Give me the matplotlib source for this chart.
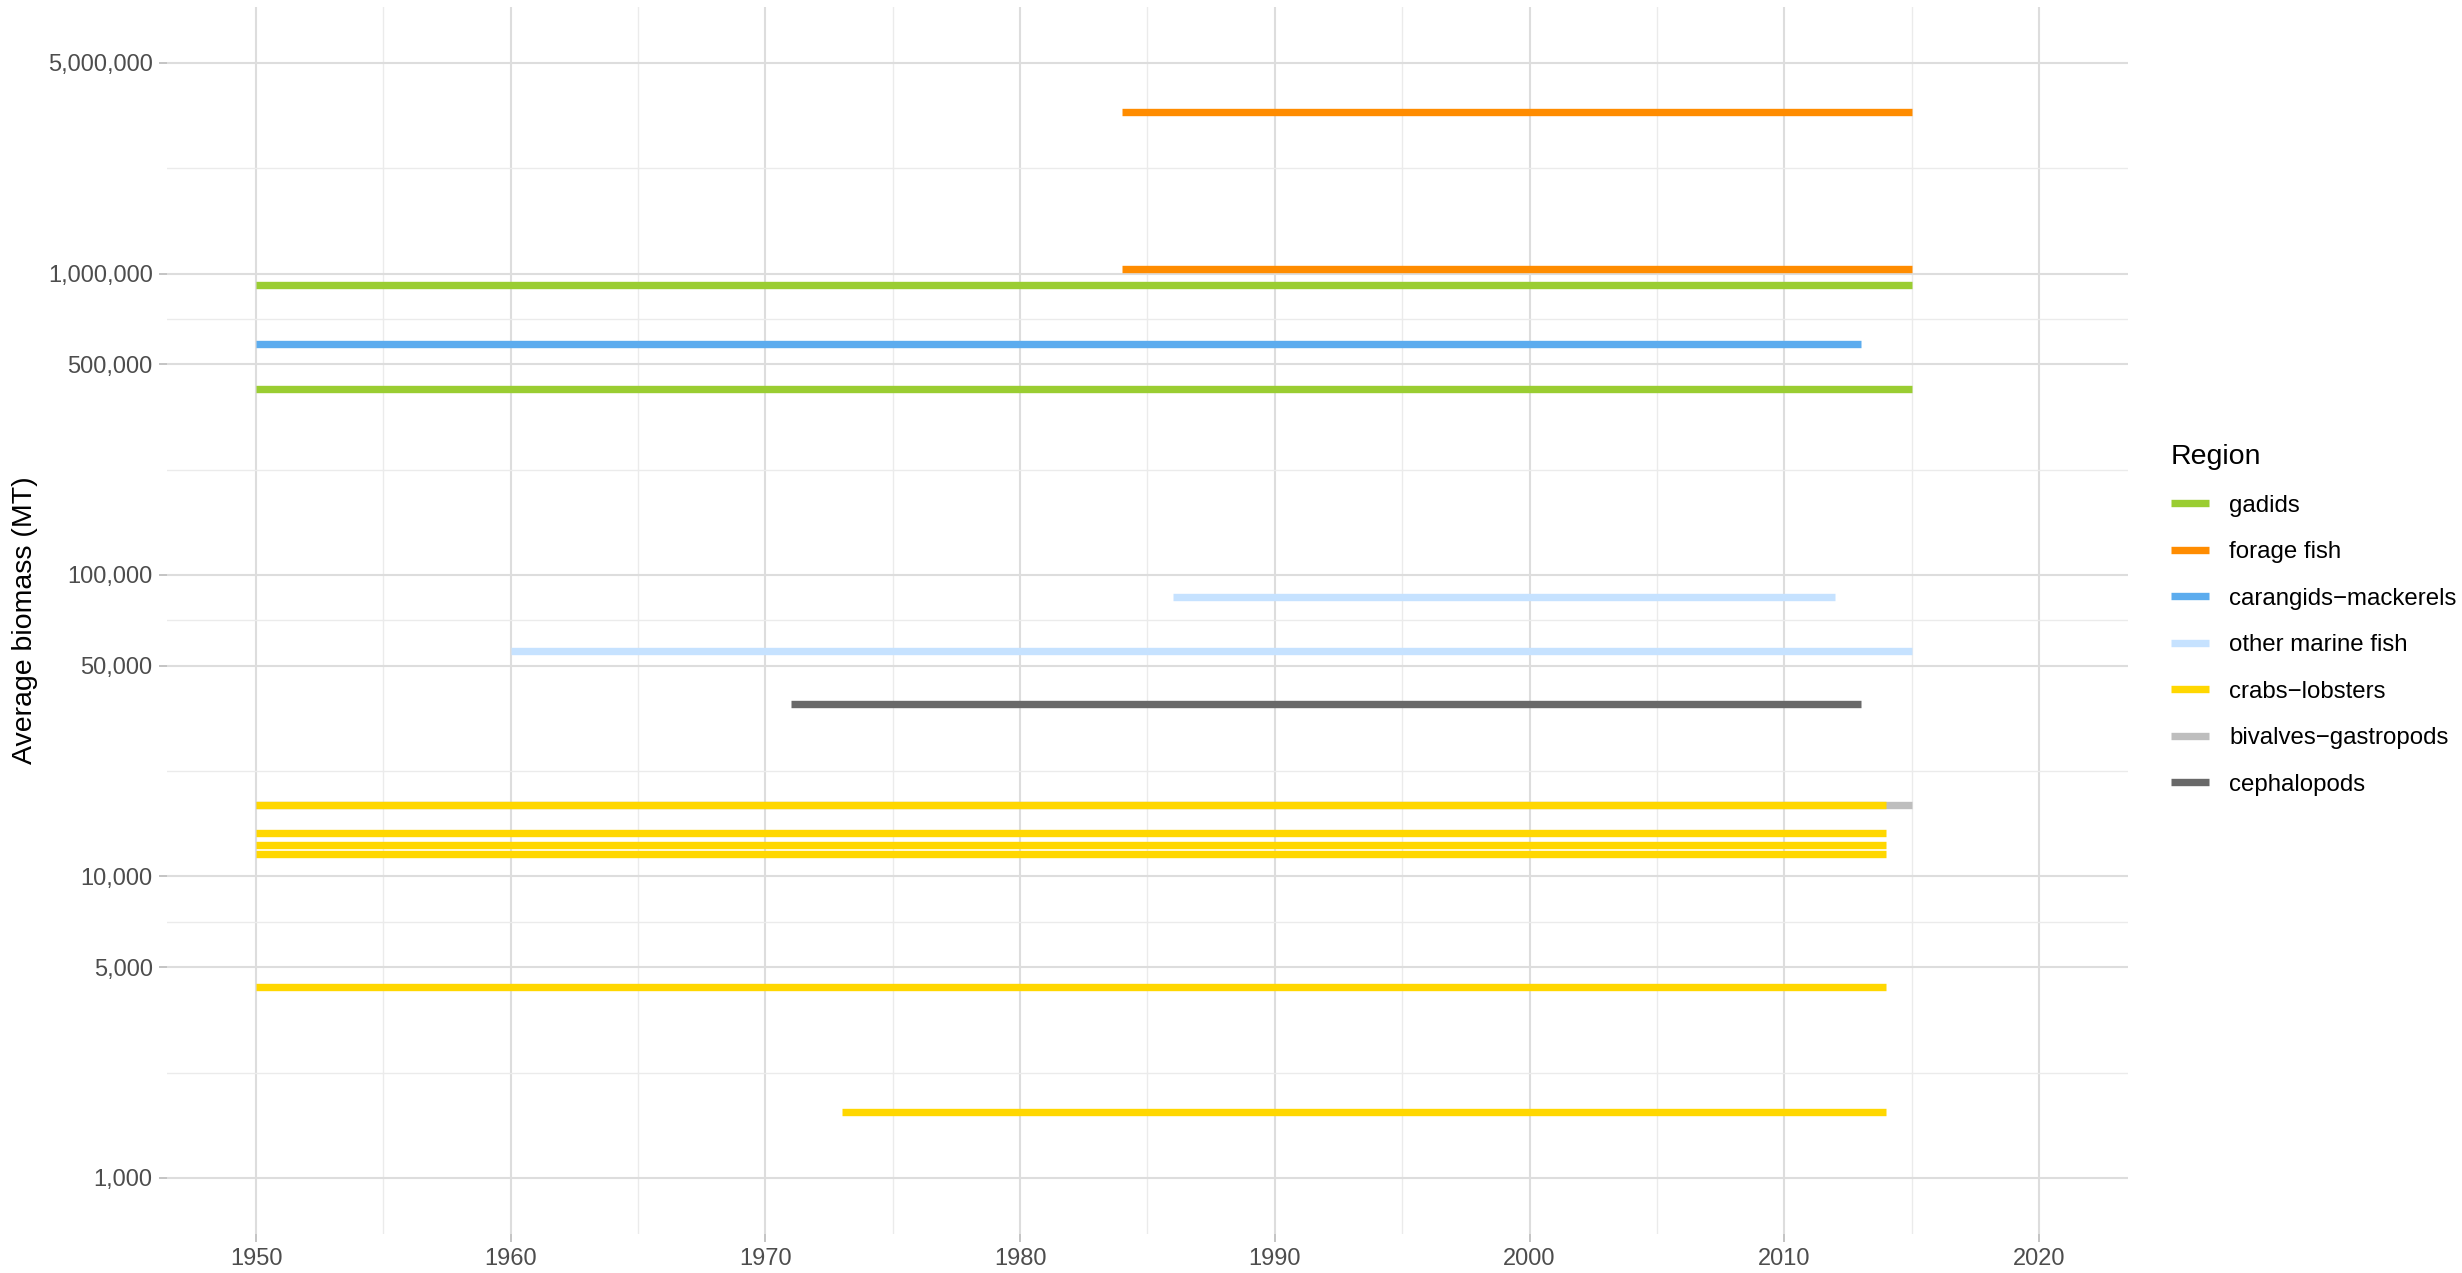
import numpy as np
import matplotlib

matplotlib.use("Agg")
import matplotlib.pyplot as plt
from matplotlib.lines import Line2D
from matplotlib.ticker import FixedLocator, FuncFormatter

plt.rcParams["font.family"] = ["Liberation Sans", "DejaVu Sans"]

# legend order and colours
regions = [
    "gadids",
    "forage fish",
    "carangids−mackerels",
    "other marine fish",
    "crabs−lobsters",
    "bivalves−gastropods",
    "cephalopods",
]
region_colors = ["#9ACD32", "#FF8C00", "#5CACEE", "#C6E2FF", "#FFD700", "#BEBEBE", "#696969"]

# one row per segment: region, first year, last year, average biomass (MT)
seg_region = [
    "forage fish", "forage fish", "gadids", "carangids−mackerels", "gadids",
    "other marine fish", "other marine fish", "cephalopods", "bivalves−gastropods",
    "crabs−lobsters", "crabs−lobsters", "crabs−lobsters", "crabs−lobsters",
    "crabs−lobsters", "crabs−lobsters",
]
seg_start = [1984, 1984, 1950, 1950, 1950, 1986, 1960, 1971, 1950, 1950, 1950, 1950, 1950, 1950, 1973]
seg_end = [2015, 2015, 2015, 2013, 2015, 2012, 2015, 2013, 2015, 2014, 2014, 2014, 2014, 2014, 2014]
seg_biomass = [3440000, 1036000, 915000, 584000, 414000, 84500, 55900, 37400, 17260,
               17260, 13890, 12710, 11870, 4300, 1652]

y_breaks = [1000, 5000, 10000, 50000, 100000, 500000, 1000000, 5000000]
x_breaks = [1950, 1960, 1970, 1980, 1990, 2000, 2010, 2020]

color_of = dict(zip(regions, region_colors))

fig = plt.figure(figsize=(24.62, 12.73), dpi=100)
ax = fig.add_axes([167 / 2462, 1 - 1234 / 1273, (2128 - 167) / 2462, (1234 - 7) / 1273])

ax.set_yscale("log")
ax.set_xlim(1946.5, 2023.5)
ax.set_ylim(10 ** 2.814, 10 ** 6.884)

# minor gridlines sit halfway between breaks (log space for y)
y_minor = [np.sqrt(a * b) for a, b in zip(y_breaks[:-1], y_breaks[1:])]
x_minor = [(a + b) / 2 for a, b in zip(x_breaks[:-1], x_breaks[1:])]
ax.yaxis.set_major_locator(FixedLocator(y_breaks))
ax.yaxis.set_minor_locator(FixedLocator(y_minor))
ax.xaxis.set_major_locator(FixedLocator(x_breaks))
ax.xaxis.set_minor_locator(FixedLocator(x_minor))
ax.yaxis.set_major_formatter(FuncFormatter(lambda v, p: f"{v:,.0f}"))
ax.yaxis.set_minor_formatter(FuncFormatter(lambda v, p: ""))

ax.grid(which="major", color="#DDDDDD", linewidth=1.5)
ax.grid(which="minor", color="#EBEBEB", linewidth=1.0)
ax.set_axisbelow(True)
for s in ax.spines.values():
    s.set_visible(False)
ax.tick_params(which="major", length=5.8, width=1.4, color="#C4C4C4",
               labelsize=17, labelcolor="#4D4D4D", pad=4.5)
ax.tick_params(which="minor", length=0)

# grey segment first so the crabs-lobsters segment covers it
order = sorted(range(len(seg_region)), key=lambda i: seg_region[i] != "bivalves−gastropods")
for i in order:
    ax.plot([seg_start[i], seg_end[i]], [seg_biomass[i], seg_biomass[i]],
            color=color_of[seg_region[i]], linewidth=5.3, solid_capstyle="butt", zorder=3)

ax.set_ylabel("Average biomass (MT)", fontsize=20.5, color="black", labelpad=7)

handles = [Line2D([0], [0], color=c, linewidth=5.3, solid_capstyle="butt") for c in region_colors]
leg = fig.legend(handles, regions, loc="upper left", bbox_to_anchor=(2171 / 2462, 1 - 444 / 1273),
                 frameon=False, fontsize=17.3, title="Region", title_fontsize=20.5,
                 alignment="left", handlelength=1.57, handletextpad=0.85,
                 labelspacing=1.02, borderpad=0, borderaxespad=0)

fig.savefig("out.png", dpi=100)
